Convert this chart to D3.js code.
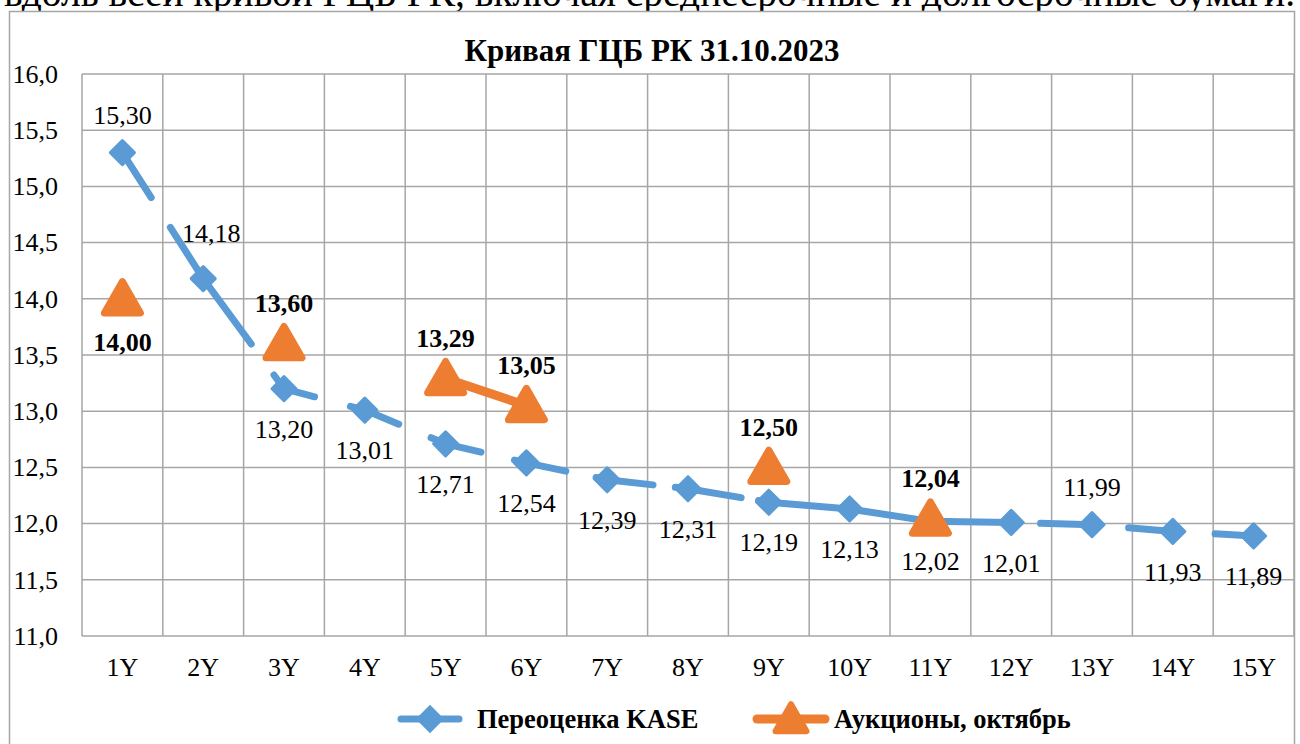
<!DOCTYPE html>
<html><head><meta charset="utf-8">
<script src="https://cdn.jsdelivr.net/npm/d3@7"></script>
<style>
html,body{margin:0;padding:0;background:#fff;overflow:hidden}
svg text{font-family:"Liberation Serif","Times New Roman",Times,"DejaVu Serif",serif !important}
</style></head>
<body>
<svg id="c" width="1300" height="744"></svg>
<script>
const categories = ["1Y","2Y","3Y","4Y","5Y","6Y","7Y","8Y","9Y","10Y","11Y","12Y","13Y","14Y","15Y"];
const kaseValues = [15.30,14.18,13.20,13.01,12.71,12.54,12.39,12.31,12.19,12.13,12.02,12.01,11.99,11.93,11.89];
const kaseLabelPos = ["t","tr","b","b","b","b","b","b","b","b","b","b","t","b","b"];
const auctionValues = [14.00,null,13.60,null,13.29,13.05,null,null,12.50,null,12.04,null,null,null,null];
const auctionLabelPos = ["b",null,"t",null,"t","t",null,null,"t",null,"t",null,null,null,null];
const yTicks = [11.0,11.5,12.0,12.5,13.0,13.5,14.0,14.5,15.0,15.5,16.0];
const title = "Кривая ГЦБ РК 31.10.2023";
const seriesNames = ["Переоценка KASE","Аукционы, октябрь"];
const introText = "вдоль всей кривой ГЦБ РК, включая среднесрочные и долгосрочные бумаги.";

// style: breaks in the blue line, as fractions of each segment (rendering artefacts of the original)
const kaseLineGaps = [[0.38,0.57],[0.62,0.85],[0.42,0.78],[0.46,0.78],[0.48,0.81],[0.53,0.82],[0.61,0.80],[0.70,0.83],null,null,null,[0.13,0.32],[0.13,0.41],[0.13,0.48]];

const BLUE="#5B9BD5", ORANGE="#ED7D31", GRID="#A6A6A6";
const FONT = "'Liberation Serif','Times New Roman',Times,'DejaVu Serif',serif";
const svg = d3.select("#c");
const fmt = v => v.toFixed(2).replace(".", ",");
const fmt1 = v => v.toFixed(1).replace(".", ",");

svg.append("text").attr("x",4).attr("y",6).attr("font-size",39.5).attr("font-family",FONT).text(introText);

// chart frame
svg.append("rect").attr("x",9.5).attr("y",11.5).attr("width",1285).attr("height",760)
  .attr("fill","#fff").attr("stroke",GRID).attr("stroke-width",1.5);

svg.append("text").attr("x",652).attr("y",61).attr("text-anchor","middle").attr("font-family",FONT)
  .attr("font-size",31).attr("font-weight","bold").text(title);

const pL=82, pR=1294, pT=74, pB=636;
const x = d3.scaleBand().domain(categories).range([pL,pR]);
const y = d3.scaleLinear().domain([11,16]).range([pB,pT]);
const cx = c => x(c) + x.bandwidth()/2;

// grid
const g = svg.append("g");
g.selectAll("line.h").data(yTicks).join("line")
  .attr("x1",pL).attr("x2",pR).attr("y1",d=>y(d)).attr("y2",d=>y(d))
  .attr("stroke",GRID).attr("stroke-width",1.5);
g.selectAll("line.v").data(categories.concat(["__end"])).join("line")
  .attr("x1",(d,i)=> i<categories.length ? x(d) : pR)
  .attr("x2",(d,i)=> i<categories.length ? x(d) : pR)
  .attr("y1",pT).attr("y2",pB).attr("stroke",GRID).attr("stroke-width",1.5);

// axes
const yAxis = d3.axisLeft(y).tickValues(yTicks).tickFormat(fmt1).tickSize(0).tickPadding(24);
const ya = svg.append("g").attr("transform",`translate(${pL},0)`).call(yAxis).attr("font-family",FONT);
ya.select(".domain").remove();
ya.selectAll("text").attr("font-size",26).attr("fill","#000");

const xAxis = d3.axisBottom(x).tickSize(0).tickPadding(22);
const xa = svg.append("g").attr("transform",`translate(0,${pB})`).call(xAxis).attr("font-family",FONT);
xa.select(".domain").remove();
xa.selectAll("text").attr("font-size",26).attr("fill","#000");

// series
const kase = categories.map((c,i)=>({c, v:kaseValues[i], p:kaseLabelPos[i]}));
const auc = categories.map((c,i)=>({c, v:auctionValues[i], p:auctionLabelPos[i]}));
const line = d3.line().defined(d=>d.v!=null).x(d=>cx(d.c)).y(d=>y(d.v));

const BW = 7;
const segs = d3.pairs(kase).map(([a,b],i)=>({a,b,gap:kaseLineGaps[i]}));
svg.selectAll("path.seg").data(segs).join("path")
  .attr("d",s=>line([s.a,s.b])).attr("fill","none")
  .attr("stroke",BLUE).attr("stroke-width",BW).attr("stroke-linecap","round")
  .attr("stroke-dasharray",function(s){
    if(!s.gap) return null;
    const L=this.getTotalLength();
    const d1=Math.max(0.1,s.gap[0]*L-BW/2), gp=(s.gap[1]-s.gap[0])*L+BW;
    return `${d1} ${gp} ${L}`;
  });

const diamond = d3.symbol().type(d3.symbolSquare).size(290);
svg.selectAll("path.dm").data(kase).join("path")
  .attr("d",diamond()).attr("fill",BLUE).attr("stroke",BLUE).attr("stroke-width",3).attr("stroke-linejoin","round")
  .attr("transform",d=>`translate(${cx(d.c)},${y(d.v)}) rotate(45)`);

svg.append("path").datum(auc).attr("d",line).attr("fill","none")
  .attr("stroke",ORANGE).attr("stroke-width",9).attr("stroke-linecap","round");

function tri(s){
  const h=s*0.87;
  return `M0,${-h*0.55} L${s/2},${h*0.45} L${-s/2},${h*0.45} Z`;
}
const aucPts = auc.filter(d=>d.v!=null);
svg.selectAll("path.tr").data(aucPts).join("path")
  .attr("d",tri(36)).attr("fill",ORANGE).attr("stroke",ORANGE).attr("stroke-width",7).attr("stroke-linejoin","round")
  .attr("transform",d=>`translate(${cx(d.c)},${y(d.v)})`);

// labels
const off = {t:[0,-38], b:[0,40], tr:[8,-46]};
svg.selectAll("text.kl").data(kase).join("text").attr("font-family",FONT)
  .attr("x",d=>cx(d.c)+off[d.p][0]).attr("y",d=>y(d.v)+off[d.p][1]).attr("dy","0.35em")
  .attr("text-anchor","middle").attr("font-size",26).text(d=>fmt(d.v));
const offA = {t:[0,-41], b:[0,43]};
svg.selectAll("text.al").data(aucPts).join("text").attr("font-family",FONT)
  .attr("x",d=>cx(d.c)+offA[d.p][0]).attr("y",d=>y(d.v)+offA[d.p][1]).attr("dy","0.35em")
  .attr("text-anchor","middle").attr("font-size",26).attr("font-weight","bold").text(d=>fmt(d.v));

// legend
const lg = svg.append("g").attr("transform","translate(0,719)").attr("font-family",FONT);
lg.append("line").attr("x1",401).attr("x2",459).attr("stroke",BLUE).attr("stroke-width",BW).attr("stroke-linecap","round");
lg.append("path").attr("d",diamond()).attr("fill",BLUE).attr("stroke",BLUE).attr("stroke-width",3).attr("transform","translate(430,0) rotate(45)");
lg.append("text").attr("x",477).attr("y",0).attr("dy","0.35em").attr("font-size",26.5).attr("font-weight","bold").text(seriesNames[0]);
lg.append("line").attr("x1",757).attr("x2",825).attr("stroke",ORANGE).attr("stroke-width",9).attr("stroke-linecap","round");
lg.append("path").attr("d",tri(31)).attr("fill",ORANGE).attr("stroke",ORANGE).attr("stroke-width",6).attr("stroke-linejoin","round").attr("transform","translate(791,0)");
lg.append("text").attr("x",834).attr("y",0).attr("dy","0.35em").attr("font-size",26.5).attr("font-weight","bold").text(seriesNames[1]);
</script>
</body></html>
